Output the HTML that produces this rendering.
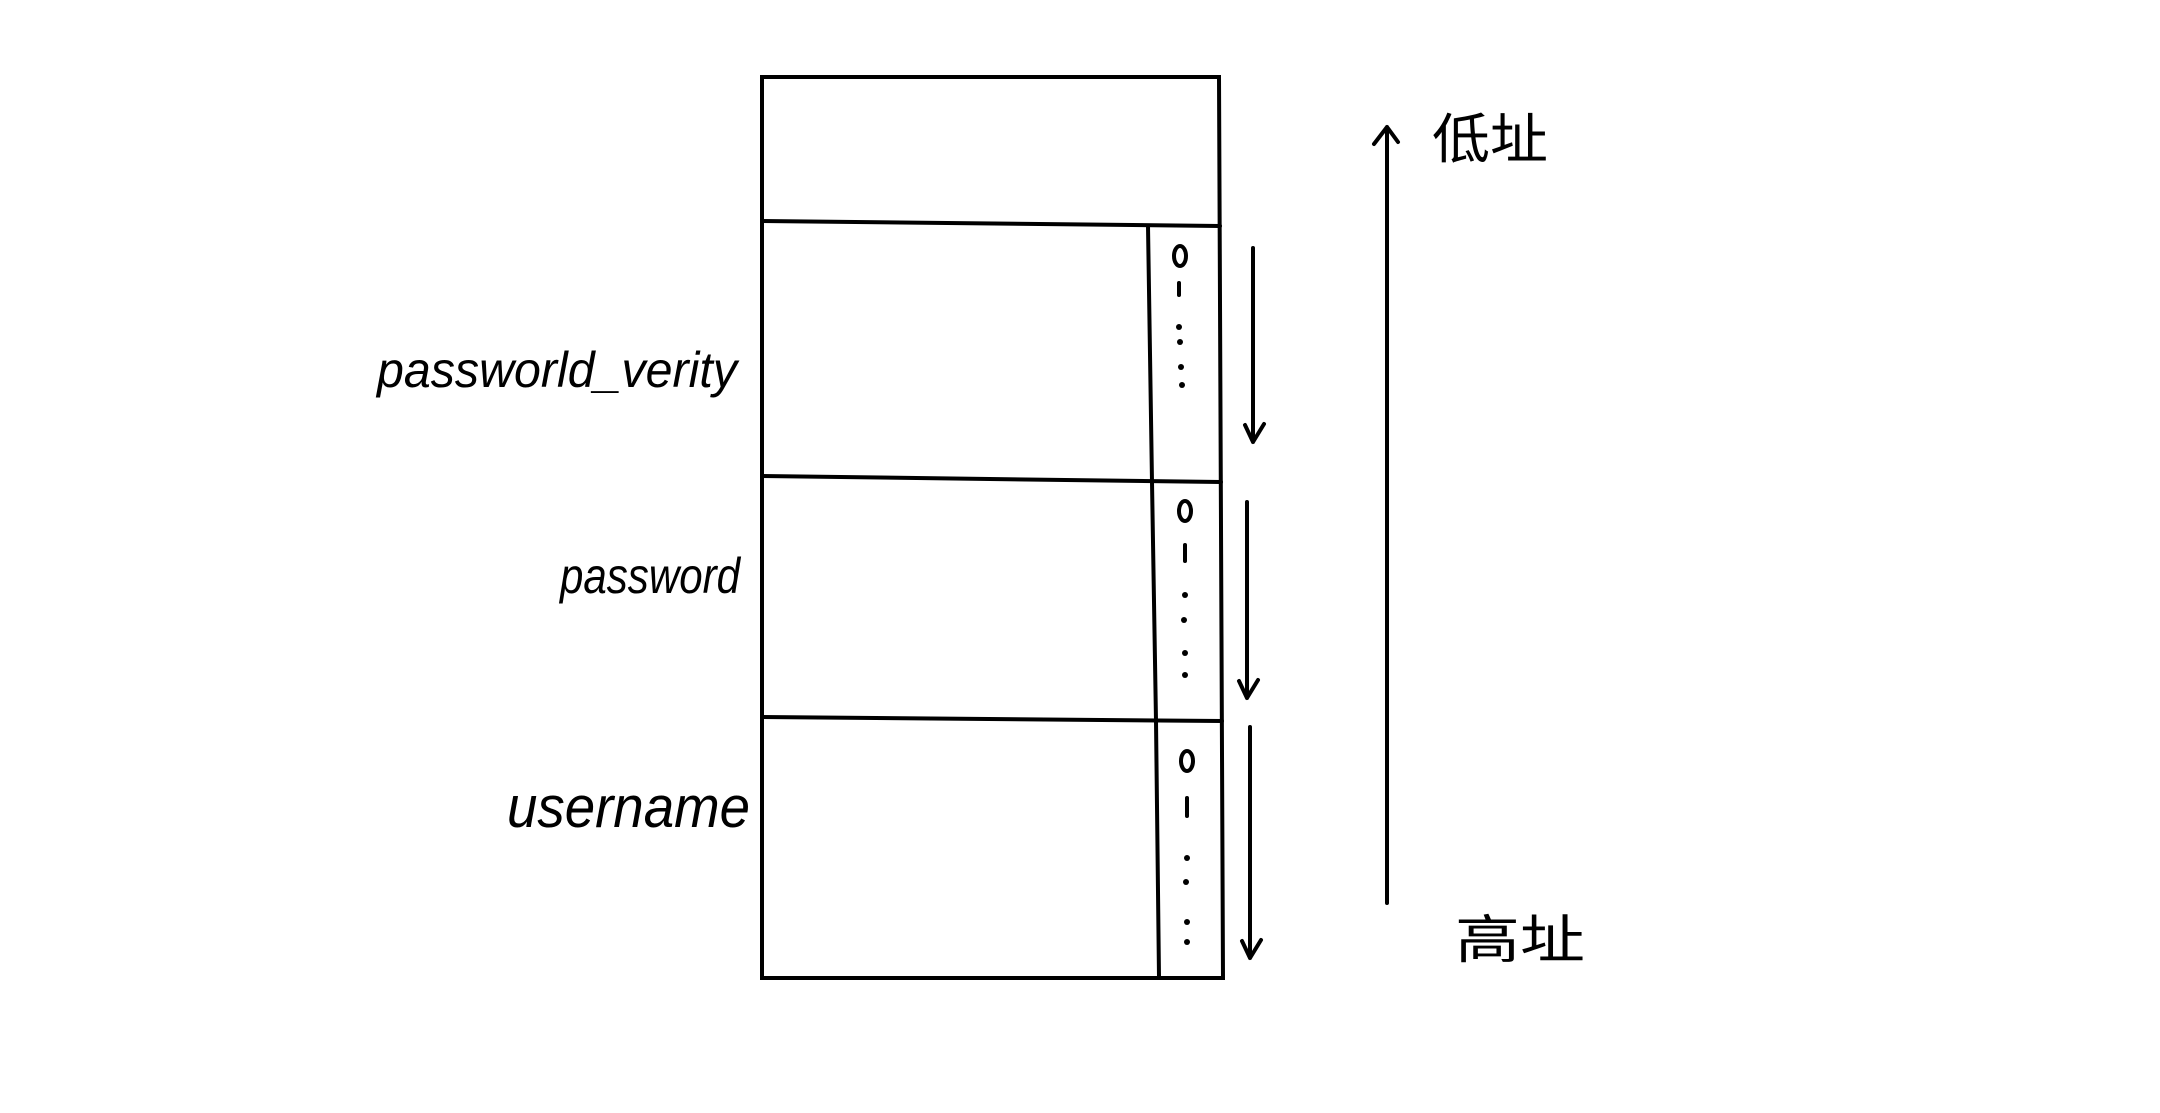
<!DOCTYPE html>
<html><head><meta charset="utf-8"><style>
html,body{margin:0;padding:0;background:#fff;}
svg{display:block}
text{font-family:"Liberation Sans","Noto Sans CJK SC",sans-serif;fill:#000;font-style:italic}
</style></head><body>
<svg width="2160" height="1113" viewBox="0 0 2160 1113">
<g stroke="#000" stroke-width="4" fill="none" stroke-linecap="round">
 <path d="M762 77 L1219 77 L1223 978 L762 978 Z"/>
 <path d="M762 221 L1220 226"/>
 <path d="M762 476 L1221 482"/>
 <path d="M762 717 L1222 721"/>
 <path d="M1148 226 L1152 482"/>
 <path d="M1152 482 L1156 721"/>
 <path d="M1156 721 L1159 977"/>
</g>
<g stroke="#000" stroke-width="4" fill="none" stroke-linecap="round">
 <ellipse cx="1180" cy="256" rx="6" ry="10"/>
 <path d="M1179 283 L1179 295"/>
 <ellipse cx="1185" cy="511" rx="6" ry="10"/>
 <path d="M1185 545 L1185 561"/>
 <ellipse cx="1187" cy="761" rx="6" ry="10"/>
 <path d="M1187 798 L1187 816"/>
</g>
<g fill="#000">
 <circle cx="1179" cy="327" r="3"/><circle cx="1180" cy="342" r="3"/><circle cx="1181" cy="367" r="3"/><circle cx="1182" cy="385" r="3"/>
 <circle cx="1185" cy="595" r="3"/><circle cx="1184" cy="620" r="3"/><circle cx="1185" cy="653" r="3"/><circle cx="1185" cy="675" r="3"/>
 <circle cx="1187" cy="858" r="3"/><circle cx="1186" cy="882" r="3"/><circle cx="1187" cy="922" r="3"/><circle cx="1187" cy="942" r="3"/>
</g>
<g stroke="#000" stroke-width="4" fill="none" stroke-linecap="round" stroke-linejoin="round">
 <path d="M1253 248 L1253 442 M1245 425 L1253 442 L1264 424"/>
 <path d="M1247 502 L1247 698 M1239 681 L1247 698 L1258 680"/>
 <path d="M1250 727 L1250 958 M1242 941 L1250 958 L1261 940"/>
 <path d="M1387 903 L1387 127 M1374 144 L1387 127 L1398 142"/>
</g>
<text x="377" y="387" font-size="50" textLength="360" lengthAdjust="spacingAndGlyphs">passworld_verity</text>
<text x="560" y="593" font-size="50" textLength="180" lengthAdjust="spacingAndGlyphs">password</text>
<text x="507" y="827" font-size="58" textLength="243" lengthAdjust="spacingAndGlyphs">username</text>
<text x="1432" y="158" font-size="54" style="font-style:normal" textLength="116" lengthAdjust="spacingAndGlyphs">低址</text>
<text x="1455" y="958" font-size="52" style="font-style:normal" textLength="130" lengthAdjust="spacingAndGlyphs">高址</text>
</svg>
</body></html>
